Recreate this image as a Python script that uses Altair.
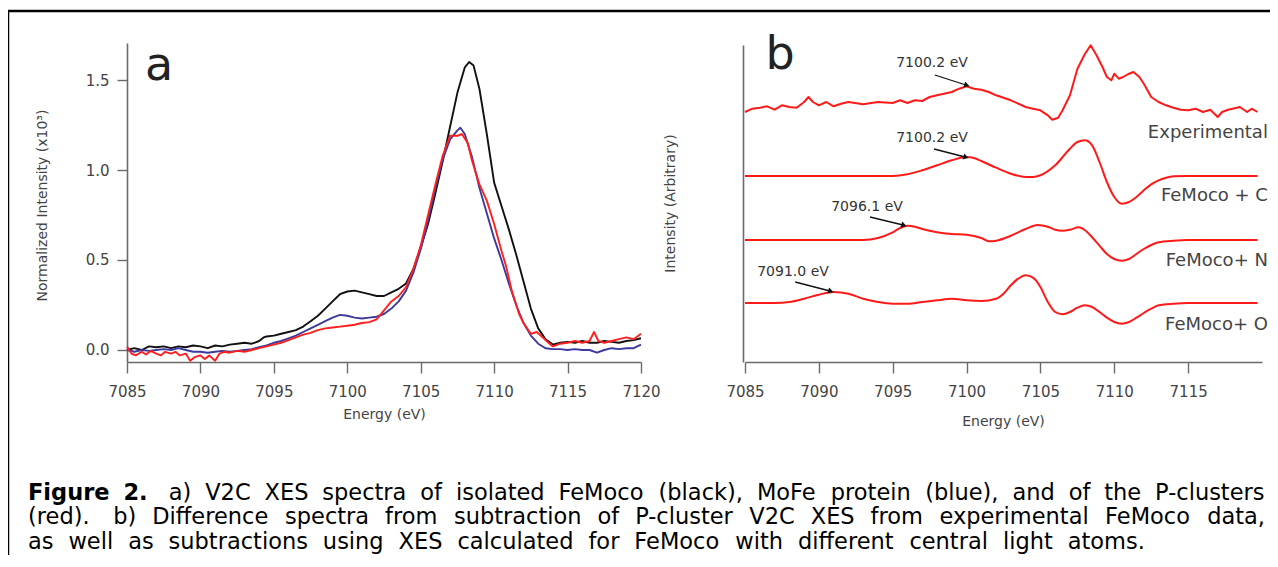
import altair as alt
import pandas as pd

# ---------------- Panel a data (Energy eV, normalized intensity x10^3) ----------------
a_black_E = [7085, 7085.5, 7086, 7086.5, 7087, 7087.5, 7088, 7088.5, 7089, 7089.5, 7090, 7090.5,
             7091, 7091.5, 7092, 7092.5, 7093, 7093.5, 7094, 7094.3, 7094.5, 7095, 7095.5, 7096,
             7096.5, 7097, 7097.5, 7098, 7098.5, 7099, 7099.5, 7100, 7100.5, 7101, 7101.5, 7102,
             7102.5, 7103, 7103.5, 7104, 7104.5, 7105, 7105.5, 7106, 7106.5, 7107, 7107.5, 7108,
             7108.3, 7108.6, 7109, 7109.5, 7110, 7110.5, 7111, 7111.5, 7112, 7112.5, 7113, 7113.5,
             7114, 7114.5, 7115, 7115.5, 7116, 7116.5, 7117, 7117.5, 7118, 7118.5, 7119, 7119.5, 7120]
a_black_I = [0.0, 0.01, 0.0, 0.02, 0.015, 0.02, 0.01, 0.02, 0.015, 0.025, 0.02, 0.01,
             0.025, 0.02, 0.03, 0.035, 0.04, 0.035, 0.05, 0.07, 0.075, 0.08, 0.09, 0.1,
             0.11, 0.13, 0.16, 0.19, 0.23, 0.27, 0.31, 0.325, 0.33, 0.32, 0.31, 0.3,
             0.3, 0.32, 0.34, 0.37, 0.45, 0.57, 0.7, 0.87, 1.05, 1.24, 1.43, 1.57,
             1.6, 1.58, 1.45, 1.2, 0.93, 0.8, 0.67, 0.53, 0.38, 0.23, 0.12, 0.06,
             0.03, 0.04, 0.045, 0.04, 0.05, 0.04, 0.04, 0.05, 0.045, 0.04, 0.05, 0.055, 0.065]

a_blue_E = [7085, 7085.5, 7086, 7086.5, 7087, 7087.5, 7088, 7088.5, 7089, 7089.5, 7090, 7090.5,
            7091, 7091.5, 7092, 7092.5, 7093, 7093.5, 7094, 7094.5, 7095, 7095.5, 7096, 7096.5,
            7097, 7097.5, 7098, 7098.5, 7099, 7099.5, 7100, 7100.5, 7101, 7101.5, 7102, 7102.5,
            7103, 7103.5, 7104, 7104.5, 7105, 7105.5, 7106, 7106.5, 7107, 7107.5, 7107.7, 7108,
            7108.5, 7109, 7109.5, 7110, 7110.5, 7111, 7111.5, 7112, 7112.5, 7113, 7113.5, 7114,
            7114.5, 7115, 7115.5, 7116, 7116.5, 7117, 7117.5, 7118, 7118.5, 7119, 7119.5, 7120]
a_blue_I = [0.0, -0.01, 0.0, -0.005, 0.0, 0.005, 0.0, 0.01, 0.0, -0.01, -0.01, -0.015,
            -0.01, -0.005, -0.01, -0.005, 0.0, 0.005, 0.015, 0.025, 0.04, 0.05, 0.065, 0.08,
            0.1, 0.12, 0.14, 0.16, 0.18, 0.195, 0.19, 0.18, 0.175, 0.18, 0.185, 0.2,
            0.23, 0.27, 0.33, 0.43, 0.56, 0.72, 0.9, 1.06, 1.17, 1.22, 1.235, 1.2,
            1.07, 0.9, 0.76, 0.62, 0.5, 0.37, 0.25, 0.15, 0.08, 0.035, 0.01, 0.005,
            0.005, 0.0, 0.005, 0.0, 0.0, -0.015, 0.0, 0.01, 0.005, 0.01, 0.01, 0.03]

a_red_E = [7085, 7085.3, 7085.6, 7086, 7086.3, 7086.6, 7087, 7087.3, 7087.6, 7088, 7088.3, 7088.6,
           7089, 7089.3, 7089.6, 7090, 7090.3, 7090.6, 7091, 7091.3, 7091.6, 7092, 7092.5, 7093,
           7093.5, 7094, 7094.5, 7095, 7095.5, 7096, 7096.5, 7097, 7097.5, 7098, 7098.5, 7099,
           7099.5, 7100, 7100.5, 7101, 7101.5, 7102, 7102.5, 7103, 7103.5, 7104, 7104.5, 7105,
           7105.5, 7106, 7106.5, 7107, 7107.5, 7107.8, 7108.2, 7108.5, 7109, 7109.5, 7110, 7110.5,
           7110.8, 7111.2, 7111.7, 7112, 7112.5, 7112.9, 7113.3, 7113.7, 7114, 7114.5, 7115, 7115.5,
           7116, 7116.5, 7116.8, 7117.1, 7117.5, 7118, 7118.5, 7119, 7119.5, 7120]
a_red_I = [0.02, -0.02, -0.03, -0.01, -0.025, -0.005, -0.02, -0.03, -0.01, -0.02, -0.01, -0.03,
           -0.02, -0.06, -0.04, -0.03, -0.05, -0.03, -0.06, -0.02, -0.01, -0.015, -0.005, -0.01,
           0.0, 0.01, 0.02, 0.03, 0.04, 0.055, 0.07, 0.085, 0.095, 0.11, 0.12, 0.125,
           0.13, 0.135, 0.14, 0.15, 0.155, 0.17, 0.22, 0.27, 0.3, 0.35, 0.45, 0.58,
           0.75, 0.92, 1.08, 1.19, 1.19, 1.2, 1.15, 1.05, 0.92, 0.83, 0.7, 0.55,
           0.47, 0.33, 0.2, 0.15, 0.09, 0.1, 0.07, 0.04, 0.02, 0.035, 0.04, 0.05,
           0.04, 0.05, 0.1, 0.05, 0.04, 0.05, 0.06, 0.07, 0.06, 0.09]

# ---------------- Panel b data (difference spectra, arbitrary units) ----------------
b_offsets = [250, 186, 122, 59]
b_labels = ["Experimental", "FeMoco + C", "FeMoco+ N", "FeMoco+ O"]
b_label_y = [229, 166, 101, 37]

b_exp_E = [7085, 7085.5, 7086, 7086.5, 7087, 7087.5, 7088, 7088.5, 7089, 7089.3, 7089.6, 7090,
           7090.5, 7091, 7091.5, 7092, 7093, 7094, 7095, 7095.5, 7096, 7096.5, 7097, 7097.5,
           7098, 7099, 7099.5, 7100, 7100.5, 7101, 7101.5, 7102, 7103, 7104, 7104.5, 7105,
           7105.5, 7105.8, 7106.2, 7106.5, 7107, 7107.5, 7108, 7108.4, 7108.8, 7109.2, 7109.5, 7109.8,
           7110, 7110.3, 7110.6, 7111, 7111.3, 7111.7, 7112, 7112.5, 7113, 7113.5, 7114, 7114.5,
           7115, 7115.5, 7116, 7116.5, 7117, 7117.3, 7117.7, 7118, 7118.5, 7119, 7119.3, 7119.7]
b_exp_d = [0, 3.3, 4.3, 5.7, 2.3, 6.7, 5, 4.3, 10, 15, 10, 6.7,
           10, 5.7, 8.3, 10, 7.7, 10, 9, 11.7, 9, 11.7, 11, 15,
           16.7, 20, 23.3, 25.7, 23.3, 22.3, 20, 16.7, 11.7, 5, 3.3, 1.7,
           -3.3, -7.7, -5.7, 1.7, 16.7, 43, 57.7, 66.7, 56.7, 45, 35, 31.7,
           38.3, 33.3, 35, 38.3, 40, 35, 28.3, 15, 10, 6.7, 4.3, 2.3,
           1.7, 3.3, 0, 2.3, -5, 0, 2.3, 3.3, 5, 0, 3.3, 0]

b_C_E = [7085, 7090, 7095, 7096, 7097, 7098, 7099, 7100, 7100.5, 7101, 7102, 7103,
         7104, 7104.5, 7105, 7106, 7107, 7107.5, 7108, 7108.5, 7109, 7109.5, 7110, 7110.5,
         7111, 7111.5, 7112, 7112.5, 7113, 7113.5, 7114, 7115, 7119.7]
b_C_d = [0, 0, 0, 1.7, 5.7, 10.7, 15.7, 19, 18, 15, 8.3, 2.3,
         -1, -1, 0.7, 10.7, 27.3, 34, 35.7, 30.7, 14, -6, -21, -27.7,
         -26, -21, -14.3, -8.3, -4.3, -1.7, -0.3, 0, 0]

b_N_E = [7085, 7090, 7093, 7094, 7095, 7095.5, 7096, 7096.5, 7097, 7098, 7099, 7100,
         7101, 7101.5, 7102, 7103, 7104, 7104.8, 7105.5, 7106, 7106.5, 7107, 7107.6, 7108,
         7108.5, 7109, 7109.5, 7110, 7110.5, 7111, 7111.5, 7112, 7112.5, 7113, 7114, 7115, 7119.7]
b_N_d = [0, 0, 0, 2, 7.7, 12, 14.3, 13.3, 11, 7.7, 6, 5.3,
         2, -1.3, -0.7, 4.3, 11, 15, 13.3, 10.3, 9.3, 10.3, 12.7, 10,
         2.7, -5.7, -14, -19, -20.7, -19, -14, -9, -5, -2.3, -0.7, 0, 0]

b_O_E = [7085, 7087, 7088, 7089, 7090, 7091, 7092, 7093, 7094, 7095, 7096, 7097,
         7098, 7099, 7100, 7101, 7102, 7102.5, 7103, 7103.5, 7104, 7104.5, 7105, 7105.5,
         7106, 7106.5, 7107, 7107.5, 7108, 7108.5, 7109, 7109.5, 7110, 7110.5, 7111, 7111.5,
         7112, 7112.5, 7113, 7114, 7115, 7119.7]
b_O_d = [0, 0, 1, 4.3, 8.3, 11, 9.3, 4.3, 1, -0.7, -0.7, 1,
         2.7, 4.3, 2.7, 2, 4.3, 9.3, 17.7, 24.3, 27.7, 25.3, 16, 1,
         -9, -11.3, -9, -4.7, -2.3, -4, -9, -14.7, -19, -20.7, -19, -14.7,
         -10, -5.7, -2.3, -0.7, 0, 0]

# annotations (peak positions) in panel b data units
ann_text = ["7100.2 eV", "7100.2 eV", "7096.1 eV", "7091.0 eV"]
ann_tx = [7097.66, 7097.66, 7093.26, 7088.25]
ann_ty = [299, 224, 155, 90]
ann_x0 = [7097.85, 7097.8, 7093.46, 7088.4]
ann_y0 = [287, 213, 145, 80]
ann_x1 = [7099.96, 7099.9, 7095.7, 7090.75]
ann_y1 = [277, 205, 137, 71]

cap_lines = [
    "Figure 2.  a) V2C XES spectra of isolated FeMoco (black), MoFe protein (blue), and of the P-clusters",
    "(red).  b) Difference spectra from subtraction of P-cluster V2C XES from experimental FeMoco data,",
    "as well as subtractions using XES calculated for FeMoco with different central light atoms.",
]
cap_bold_words = 2  # "Figure" "2." are bold

# ---------------- styling ----------------
W, H = 1262, 544
TICK_FONT = "DejaVu Sans"
AX_COLOR = "#6a6a6a"
TXT_COLOR = "#444444"

common_axis = dict(domainColor=AX_COLOR, domainWidth=1.6, tickColor=AX_COLOR, tickWidth=1.4,
                   labelFont=TICK_FONT, labelFontSize=15, labelColor=TXT_COLOR,
                   titleFont=TICK_FONT, titleFontSize=14, titleColor=TXT_COLOR,
                   titleFontWeight="normal", grid=False, labelFlush=False, labelOverlap=False)

xa_scale = alt.Scale(domain=[7085, 7120], range=[119, 633], nice=False, zero=False)
ya_scale = alt.Scale(domain=[-0.0667, 1.7056], range=[351, 32], nice=False, zero=False)
xb_scale = alt.Scale(domain=[7085, 7120], range=[737, 1254], nice=False, zero=False)
yb_scale = alt.Scale(domain=[0, 317], range=[351, 34], nice=False, zero=False)

xa_axis = alt.Axis(orient="bottom", offset=-193, values=list(range(7085, 7121, 5)), format="d",
                   tickSize=11, labelPadding=11, title="Energy (eV)", titleX=376, titleY=52,
                   titleBaseline="middle", titleAlign="center", **common_axis)
ya_axis = alt.Axis(orient="left", offset=-119, values=[0, 0.5, 1.0, 1.5], format=".1f",
                   tickSize=10, labelPadding=8, title="Normalized Intensity (x10³)",
                   titleX=-85, titleY=194, titleAngle=270, titleBaseline="middle",
                   titleAlign="center", **common_axis)
xb_axis = alt.Axis(orient="bottom", offset=-193, values=list(range(7085, 7116, 5)), format="d",
                   tickSize=11, labelPadding=11, title="Energy (eV)", titleX=995, titleY=59,
                   titleBaseline="middle", titleAlign="center", **common_axis)
yb_axis = alt.Axis(orient="left", offset=-735, ticks=False, labels=False,
                   title="Intensity (Arbitrary)", titleX=-73, titleY=192, titleAngle=270,
                   titleBaseline="middle", titleAlign="center", **common_axis)

XA = alt.X("E:Q", scale=xa_scale, axis=xa_axis)
YA = alt.Y("I:Q", scale=ya_scale, axis=ya_axis)
XB = alt.X("E:Q", scale=xb_scale, axis=xb_axis)
YB = alt.Y("I:Q", scale=yb_scale, axis=yb_axis)


def a_line(E, I, color):
    df = pd.DataFrame({"E": E, "I": I})
    return alt.Chart(df).mark_line(color=color, strokeWidth=1.9, strokeJoin="round").encode(x=XA, y=YA)


panel_a = alt.layer(
    a_line(a_black_E, a_black_I, "#111111"),
    a_line(a_blue_E, a_blue_I, "#3c3a9c"),
    a_line(a_red_E, a_red_I, "#ff1f1f"),
    alt.Chart(pd.DataFrame({"E": [7087.18], "I": [1.5], "t": ["a"]})).mark_text(
        font="DejaVu Sans", fontSize=46, color="#222222", align="center", baseline="alphabetic"
    ).encode(x=XA, y=YA, text="t:N"),
)


def b_line(E, d, off, interp):
    df = pd.DataFrame({"E": E, "I": [off + v for v in d]})
    return alt.Chart(df).mark_line(color="#ff1a1a", strokeWidth=2.0, interpolate=interp,
                                   strokeJoin="round").encode(x=XB, y=YB)


ann_df = pd.DataFrame({"t": ann_text, "E": ann_tx, "I": ann_ty})
arr_df = pd.DataFrame({"E": ann_x0, "I": ann_y0, "E2": ann_x1, "I2": ann_y1})
lab_df = pd.DataFrame({"t": b_labels, "E": [7120.4] * 4, "I": b_label_y})

panel_b = alt.layer(
    b_line(b_exp_E, b_exp_d, b_offsets[0], "linear"),
    b_line(b_C_E, b_C_d, b_offsets[1], "monotone"),
    b_line(b_N_E, b_N_d, b_offsets[2], "monotone"),
    b_line(b_O_E, b_O_d, b_offsets[3], "monotone"),
    alt.Chart(arr_df).mark_rule(color="#111111", strokeWidth=1.3).encode(
        x=XB, y=YB, x2="E2:Q", y2="I2:Q"),
    alt.Chart(arr_df).mark_point(shape="triangle", filled=True, size=38, angle=108,
                                 color="#111111", opacity=1).encode(
        x=alt.X("E2:Q", scale=xb_scale, axis=xb_axis), y=alt.Y("I2:Q", scale=yb_scale, axis=yb_axis)),
    alt.Chart(ann_df).mark_text(font=TICK_FONT, fontSize=14, color="#333333",
                                align="center", baseline="middle").encode(x=XB, y=YB, text="t:N"),
    alt.Chart(lab_df).mark_text(font=TICK_FONT, fontSize=18, color=TXT_COLOR,
                                align="right", baseline="middle").encode(x=XB, y=YB, text="t:N"),
    alt.Chart(pd.DataFrame({"E": [7087.37], "I": [293], "t": ["b"]})).mark_text(
        font="DejaVu Sans", fontSize=46, color="#222222", align="center", baseline="alphabetic"
    ).encode(x=XB, y=YB, text="t:N"),
)

one = pd.DataFrame({"k": [0]})
border = alt.layer(
    alt.Chart(one).mark_rule(color="#000000", strokeWidth=2.5).encode(
        x=alt.value(0), x2=alt.value(W), y=alt.value(0)),
    alt.Chart(one).mark_rule(color="#000000", strokeWidth=2.5).encode(
        x=alt.value(0), y=alt.value(0), y2=alt.value(H)),
)

# ---------------- caption: text laid out word by word (justified lines 1-2) ----------------
# approximate DejaVu Sans advance widths (em units) used only for caption layout
_W = {" ": 0.318, ".": 0.318, ",": 0.318, "(": 0.390, ")": 0.390, "-": 0.361,
      "a": 0.613, "b": 0.635, "c": 0.550, "d": 0.635, "e": 0.615, "f": 0.352, "g": 0.635,
      "h": 0.634, "i": 0.278, "j": 0.278, "k": 0.579, "l": 0.278, "m": 0.974, "n": 0.634,
      "o": 0.612, "p": 0.635, "q": 0.635, "r": 0.411, "s": 0.521, "t": 0.392, "u": 0.634,
      "v": 0.592, "w": 0.818, "x": 0.592, "y": 0.592, "z": 0.525,
      "A": 0.684, "B": 0.686, "C": 0.698, "D": 0.770, "E": 0.632, "F": 0.575, "G": 0.775,
      "H": 0.752, "I": 0.295, "M": 0.863, "N": 0.748, "O": 0.787, "P": 0.603, "S": 0.635,
      "V": 0.684, "X": 0.685}
_WB = {"F": 0.683, "i": 0.343, "g": 0.716, "u": 0.712, "r": 0.493, "e": 0.678, "2": 0.696, ".": 0.380}


def text_w(s, size, bold=False):
    tab = _WB if bold else _W
    return sum(tab.get(ch, 0.636 if ch.isdigit() else 0.6) for ch in s) * size


CAP_FONT = "DejaVu Sans"
CAP_SIZE = 22.5
CAP_LEFT, CAP_RIGHT = 20, 1257
CAP_ROWS = [482, 506, 531]


def split_line(line):
    toks, gaps, cur, sp = [], [], "", 0
    for ch in line:
        if ch == " ":
            if cur:
                toks.append(cur)
                cur = ""
            sp += 1
        else:
            if not cur and toks:
                gaps.append(sp)
            sp = 0
            cur += ch
    if cur:
        toks.append(cur)
    return toks, gaps


layouts = []
extras = []
for li, line in enumerate(cap_lines):
    toks, gaps = split_line(line)
    bolds = [li == 0 and i < cap_bold_words for i in range(len(toks))]
    ww = [text_w(t, CAP_SIZE, b) for t, b in zip(toks, bolds)]
    nat = sum(ww) + sum(g * _W[" "] * CAP_SIZE for g in gaps)
    extras.append((CAP_RIGHT - CAP_LEFT - nat) / len(gaps))
    layouts.append((toks, gaps, bolds, ww))
extras[2] = (extras[0] + extras[1]) / 2

words = []
for li, (toks, gaps, bolds, ww) in enumerate(layouts):
    x = CAP_LEFT
    for i, t in enumerate(toks):
        words.append({"w": t, "px": x, "py": CAP_ROWS[li], "bold": bolds[i]})
        if i < len(gaps):
            x += ww[i] + gaps[i] * _W[" "] * CAP_SIZE + extras[li]
words_df = pd.DataFrame(words)

PX = alt.X("px:Q", scale=None, axis=None)
PY = alt.Y("py:Q", scale=None, axis=None)
caption = alt.layer(
    alt.Chart(words_df[words_df["bold"]]).mark_text(
        font=CAP_FONT, fontSize=CAP_SIZE, fontWeight="bold", align="left", baseline="middle",
        color="#000000").encode(x=PX, y=PY, text="w:N"),
    alt.Chart(words_df[~words_df["bold"]]).mark_text(
        font=CAP_FONT, fontSize=CAP_SIZE, align="left", baseline="middle",
        color="#000000").encode(x=PX, y=PY, text="w:N"),
)

chart = alt.layer(panel_a, panel_b, border, caption).resolve_scale(
    x="independent", y="independent"
).properties(
    width=W, height=H, padding={"left": 0, "top": 3, "right": 0, "bottom": 0},
    autosize=alt.AutoSizeParams(type="none"),
).configure_view(stroke=None).configure(background="white")

chart.save("out.html", embed_options={"renderer": "svg", "actions": False})
